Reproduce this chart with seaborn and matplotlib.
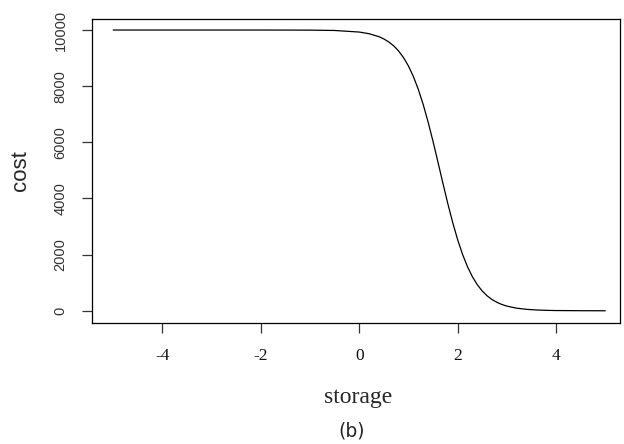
import matplotlib
matplotlib.use("Agg")
import matplotlib.pyplot as plt
import seaborn as sns
import pandas as pd

# Data
storage = [-5.0, -4.0, -3.0, -2.0, -1.0, -0.5, 0.0, 0.2, 0.4, 0.5, 0.6, 0.7, 0.8, 0.9,
           1.0, 1.1, 1.2, 1.3, 1.4, 1.5, 1.6, 1.7, 1.8, 1.9, 2.0, 2.1, 2.2, 2.3,
           2.4, 2.5, 2.6, 2.7, 2.8, 2.9, 3.0, 3.2, 3.4, 3.6, 3.8, 4.0, 4.5, 5.0]
cost = [10000, 10000, 10000, 10000, 9996, 9984, 9928, 9869, 9764, 9683, 9577, 9438, 9255, 9020,
        8722, 8348, 7892, 7350, 6726, 6035, 5300, 4551, 3822, 3143, 2535, 2010, 1571, 1213,
        928, 704, 532, 399, 299, 223, 166, 92, 51, 28, 15, 8, 2, 0]
x_ticks = [-4, -2, 0, 2, 4]
y_ticks = [0, 2000, 4000, 6000, 8000, 10000]

sns.set_theme(style="white")
plt.rcParams['font.family'] = ['DejaVu Sans']

df = pd.DataFrame({"storage": storage, "cost": cost})

fig = plt.figure(figsize=(6.24, 4.44), dpi=100)
ax = fig.add_axes([92/624, 1 - 322.5/444, (620 - 92)/624, (322.5 - 19.3)/444])
sns.lineplot(data=df, x="storage", y="cost", ax=ax, color="black", linewidth=0.9)

ax.set_xlim(-5.43, 5.3)
ax.set_ylim(-418, 10382)
ax.set_xticks(x_ticks)
ax.set_yticks(y_ticks)
ax.set_xticklabels([str(v) for v in x_ticks], fontfamily="Liberation Serif", fontsize=12.5,
                   color="#111111")
ax.set_yticklabels([str(v) for v in y_ticks], fontfamily="Liberation Sans", fontsize=10.5,
                   rotation=90, va="center", color="#333333")
ax.tick_params(axis="both", direction="out", length=7.5, width=0.9, color="#333333",
               bottom=True, left=True)
ax.tick_params(axis="x", pad=11)
ax.tick_params(axis="y", pad=10)
for s in ax.spines.values():
    s.set_color("black")
    s.set_linewidth(0.9)
    s.set_visible(True)
ax.set_xlabel("")
ax.set_ylabel("")

fig.text(358/624, 1 - 397/444, "storage", ha="center", va="center",
         fontfamily="Liberation Serif", fontsize=17)
fig.text(20.5/624, 1 - 171/444, "cost", ha="center", va="center", rotation=90,
         fontfamily="Liberation Sans", fontsize=16)
fig.text(352/624, 1 - 431/444, "(b)", ha="center", va="center",
         fontfamily="DejaVu Sans", fontsize=13.5)

fig.savefig("out.png", dpi=100, facecolor="white")
